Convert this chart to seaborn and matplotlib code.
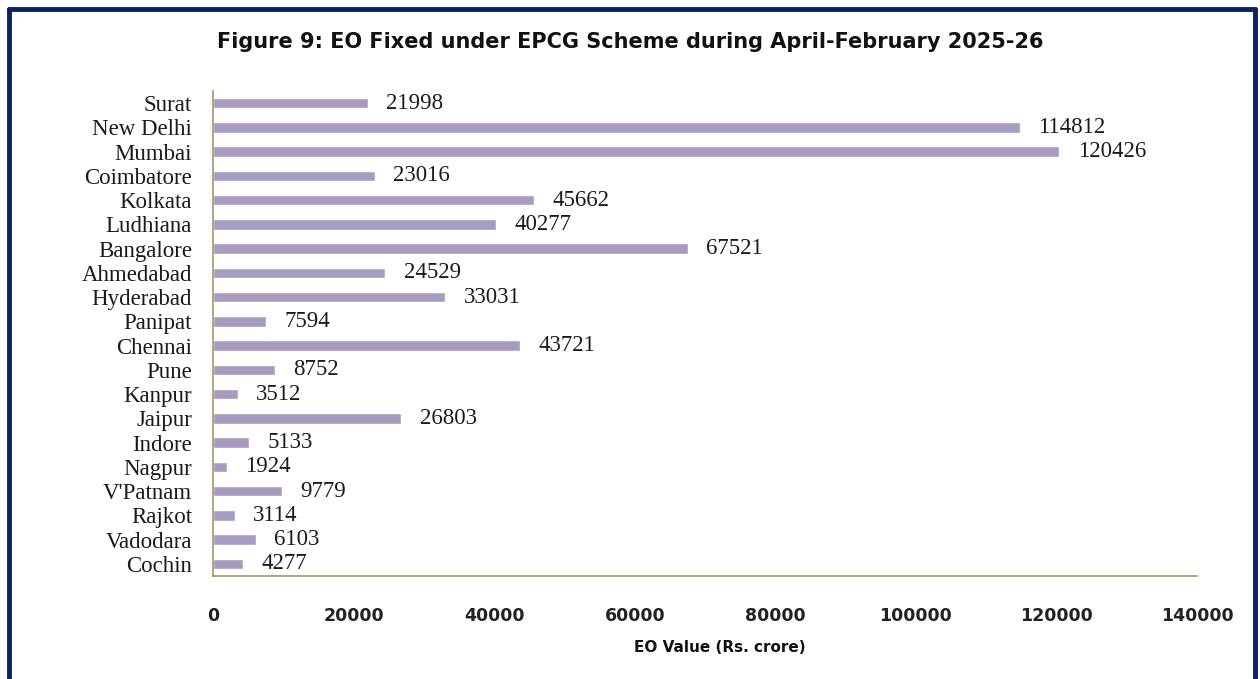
import matplotlib
matplotlib.use('Agg')

import pandas as pd
import matplotlib.pyplot as plt
import seaborn as sns
from matplotlib.lines import Line2D

# data
cities = ['Surat', 'New Delhi', 'Mumbai', 'Coimbatore', 'Kolkata', 'Ludhiana',
          'Bangalore', 'Ahmedabad', 'Hyderabad', 'Panipat', 'Chennai', 'Pune',
          'Kanpur', 'Jaipur', 'Indore', 'Nagpur', "V'Patnam", 'Rajkot',
          'Vadodara', 'Cochin']
eo_values = [21998, 114812, 120426, 23016, 45662, 40277, 67521, 24529, 33031,
             7594, 43721, 8752, 3512, 26803, 5133, 1924, 9779, 3114, 6103, 4277]
x_ticks = [0, 20000, 40000, 60000, 80000, 100000, 120000, 140000]

df = pd.DataFrame({'City': cities, 'EO': eo_values})

sns.set_style('white')
plt.rcParams['font.family'] = ['DejaVu Sans']

fig = plt.figure(figsize=(12.6, 6.79), dpi=100)
ax = fig.add_axes([213 / 1260, 1 - 576 / 679, (1197 - 213) / 1260, (576 - 91) / 679])

sns.barplot(data=df, x='EO', y='City', color='#a89bc0', saturation=1,
            width=0.44, orient='h', ax=ax)

for i, v in enumerate(eo_values):
    ax.text(v + 2600, i, str(v), va='center', ha='left',
            fontsize=16.5, family='Liberation Serif', color='#1a1a1a')

ax.set_xlim(0, 140000)
ax.set_xticks(x_ticks)
ax.set_xticklabels([str(t) for t in x_ticks], fontsize=12.5, fontweight='bold',
                   family='DejaVu Sans', color='#222222')
ax.tick_params(axis='x', length=0, pad=22)
ax.tick_params(axis='y', length=0, pad=15)
for lbl in ax.get_yticklabels():
    lbl.set_fontfamily('Liberation Serif')
    lbl.set_fontsize(16.5)
    lbl.set_color('#1a1a1a')

ax.set_ylabel('')
ax.set_xlabel('EO Value (Rs. crore)', fontsize=11, fontweight='bold',
              family='DejaVu Sans', color='#111111')
ax.xaxis.set_label_coords((720 - 213) / 984, -(640 - 576) / 485)

sns.despine(ax=ax, top=True, right=True)
for side in ['left', 'bottom']:
    ax.spines[side].set_color('#a39666')
    ax.spines[side].set_linewidth(1.2)

fig.text(0.5, 1 - 42 / 679, 'Figure 9: EO Fixed under EPCG Scheme during April-February 2025-26',
         ha='center', va='center', fontsize=15, fontweight='bold',
         family='DejaVu Sans', color='#111111')

# dark navy frame around the chart (bottom edge cut off in the reference)
border = '#0d2060'
fig.add_artist(Line2D([9 / 1260, 9 / 1260], [0, 1 - 9 / 679], color=border, lw=3.5,
                      transform=fig.transFigure))
fig.add_artist(Line2D([9 / 1260, 1255 / 1260], [1 - 9 / 679, 1 - 9 / 679], color=border,
                      lw=3.5, transform=fig.transFigure))
fig.add_artist(Line2D([1255 / 1260, 1255 / 1260], [0, 1 - 9 / 679], color=border, lw=3.5,
                      transform=fig.transFigure))

fig.savefig('out.png', dpi=100)
